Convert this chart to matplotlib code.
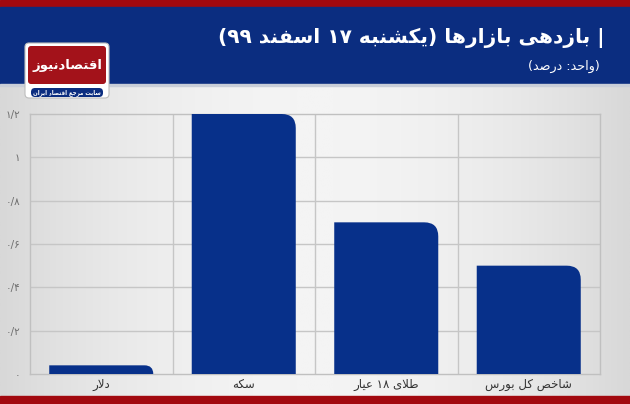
import re
import numpy as np
import matplotlib
matplotlib.use("Agg")
import matplotlib.pyplot as plt
from matplotlib.path import Path
from matplotlib.patches import PathPatch, Rectangle, FancyBboxPatch

# داده‌ها
categories = ["دلار", "سکه", "طلای ۱۸ عیار", "شاخص کل بورس"]
values = [0.04, 1.2, 0.7, 0.5]
yticks = [0, 0.2, 0.4, 0.6, 0.8, 1.0, 1.2]
ytick_labels = ["۰", "۰/۲", "۰/۴", "۰/۶", "۰/۸", "۱", "۱/۲"]
title = "| بازدهی بازارها (یکشنبه ۱۷ اسفند ۹۹)"
subtitle = "(واحد: درصد)"
logo_name = "اقتصادنیوز"
logo_tag = "سایت مرجع اقتصاد ایران"

# شکل‌دهی ساده حروف فارسی (matplotlib خودش این کار را نمی‌کند)
FORMS = {
    "ا": ("\uFE8D", "\uFE8E", None, None),
    "ب": ("\uFE8F", "\uFE90", "\uFE91", "\uFE92"),
    "ت": ("\uFE95", "\uFE96", "\uFE97", "\uFE98"),
    "ج": ("\uFE9D", "\uFE9E", "\uFE9F", "\uFEA0"),
    "ح": ("\uFEA1", "\uFEA2", "\uFEA3", "\uFEA4"),
    "خ": ("\uFEA5", "\uFEA6", "\uFEA7", "\uFEA8"),
    "د": ("\uFEA9", "\uFEAA", None, None),
    "ر": ("\uFEAD", "\uFEAE", None, None),
    "ز": ("\uFEAF", "\uFEB0", None, None),
    "س": ("\uFEB1", "\uFEB2", "\uFEB3", "\uFEB4"),
    "ش": ("\uFEB5", "\uFEB6", "\uFEB7", "\uFEB8"),
    "ص": ("\uFEB9", "\uFEBA", "\uFEBB", "\uFEBC"),
    "ط": ("\uFEC1", "\uFEC2", "\uFEC3", "\uFEC4"),
    "ع": ("\uFEC9", "\uFECA", "\uFECB", "\uFECC"),
    "ف": ("\uFED1", "\uFED2", "\uFED3", "\uFED4"),
    "ق": ("\uFED5", "\uFED6", "\uFED7", "\uFED8"),
    "ک": ("\uFB8E", "\uFB8F", "\uFB90", "\uFB91"),
    "ل": ("\uFEDD", "\uFEDE", "\uFEDF", "\uFEE0"),
    "م": ("\uFEE1", "\uFEE2", "\uFEE3", "\uFEE4"),
    "ن": ("\uFEE5", "\uFEE6", "\uFEE7", "\uFEE8"),
    "ه": ("\uFEE9", "\uFEEA", "\uFEEB", "\uFEEC"),
    "و": ("\uFEED", "\uFEEE", None, None),
    "ی": ("\uFBFC", "\uFBFD", "\uFBFE", "\uFBFF"),
}
DUAL = {k for k, v in FORMS.items() if v[2] is not None}


def fa(s):
    out = []
    i = 0
    while i < len(s):
        c = s[i]
        if c not in FORMS:
            out.append(c)
            i += 1
            continue
        prev = s[i - 1] if i > 0 else None
        nxt = s[i + 1] if i + 1 < len(s) else None
        jp = prev in DUAL
        if c == "ل" and nxt == "ا":
            out.append("\uFEFC" if jp else "\uFEFB")
            i += 2
            continue
        jn = c in DUAL and nxt in FORMS
        f = FORMS[c]
        if jp and jn:
            out.append(f[3])
        elif jp:
            out.append(f[1])
        elif jn:
            out.append(f[2])
        else:
            out.append(f[0])
        i += 1
    vis = "".join(out)[::-1]
    vis = vis.translate(str.maketrans("()", ")("))
    vis = re.sub(r"[۰-۹0-9/]+", lambda m: m.group()[::-1], vis)
    return vis


W, H = 630, 404
fig = plt.figure(figsize=(W / 100, H / 100), dpi=100)

# پس‌زمینه
bg = fig.add_axes([0, 0, 1, 1])
bg.set_xlim(0, W)
bg.set_ylim(H, 0)
bg.axis("off")
xx = np.linspace(-1, 1, 300)
grad = 1 - 0.6 * xx ** 2
grad = np.tile(grad, (10, 1))
bg.imshow(grad, extent=[0, W, H, 84], cmap=matplotlib.colors.LinearSegmentedColormap.from_list(
    "g", ["#d8d8d8", "#f4f4f4"]), aspect="auto", vmin=0.4, vmax=1)
bg.add_patch(Rectangle((0, 0), W, 7, color="#a2090f"))
bg.add_patch(Rectangle((0, 7), W, 77, color="#0b2d80"))
bg.add_patch(Rectangle((0, 84), W, 1.5, color="#c9ced8"))
bg.add_patch(Rectangle((0, 396), W, 8, color="#a2090f"))

bg.text(605, 38, fa(title), color="white", fontsize=14.5, fontweight="bold",
        ha="right", va="center", family="DejaVu Sans")
bg.text(600, 66, fa(subtitle), color="white", fontsize=9.2,
        ha="right", va="center", family="DejaVu Sans")

# لوگو
bg.add_patch(FancyBboxPatch((25, 43), 84, 55, boxstyle="round,pad=0,rounding_size=4",
                            fc="white", ec="#bdbdbd", lw=0.8))
bg.add_patch(FancyBboxPatch((28, 46), 78, 38, boxstyle="round,pad=0,rounding_size=3",
                            fc="#a3121a", ec="none"))
bg.text(67, 65, fa(logo_name), color="white", fontsize=9.5, fontweight="bold",
        ha="center", va="center", family="DejaVu Sans")
bg.add_patch(FancyBboxPatch((31, 88), 72, 9, boxstyle="round,pad=0,rounding_size=4",
                            fc="#0b2d80", ec="none"))
bg.text(67, 92.5, fa(logo_tag), color="white", fontsize=4, fontweight="bold",
        ha="center", va="center", family="DejaVu Sans")

# نمودار
ax = fig.add_axes([30 / W, (H - 374) / H, 570 / W, 260 / H])
ax.set_facecolor("none")
x = np.arange(len(categories))
bars = ax.bar(x, values, width=0.73, color="#07308a")
ax.set_xlim(-0.5, len(categories) - 0.5)
ax.set_ylim(0, 1.2)

# گوشه بالا-راست گرد
px_x = 570 / len(categories)
px_y = 260 / 1.2
r = 14
for b in bars:
    b.set_visible(False)
    x0, y0, w, h = b.get_x(), b.get_y(), b.get_width(), b.get_height()
    rp = min(r, h * px_y)
    rx, ry = rp / px_x, rp / px_y
    verts = [(x0, y0), (x0 + w, y0), (x0 + w, y0 + h - ry), (x0 + w, y0 + h),
             (x0 + w - rx, y0 + h), (x0, y0 + h), (x0, y0)]
    codes = [Path.MOVETO, Path.LINETO, Path.LINETO, Path.CURVE3, Path.CURVE3,
             Path.LINETO, Path.CLOSEPOLY]
    ax.add_patch(PathPatch(Path(verts, codes), fc="#07308a", ec="none", zorder=3))

for yv in yticks[1:-1]:
    ax.axhline(yv, color="#c6c6c6", lw=1, zorder=1)
for xv in np.arange(0.5, len(categories) - 0.5, 1):
    ax.axvline(xv, color="#c6c6c6", lw=1, zorder=1)
for s in ax.spines.values():
    s.set_color("#c0c0c0")
    s.set_linewidth(1)

ax.set_yticks(yticks)
ax.set_yticklabels(ytick_labels, fontsize=7.5, color="#6e6e6e", family="DejaVu Sans")
ax.set_xticks(x)
ax.set_xticklabels([fa(c) for c in categories], fontsize=8.5, color="#333333",
                   family="DejaVu Sans")
ax.tick_params(length=0)
ax.tick_params(axis="y", pad=7)
ax.tick_params(axis="x", pad=3)

fig.savefig("out.png", dpi=100)
